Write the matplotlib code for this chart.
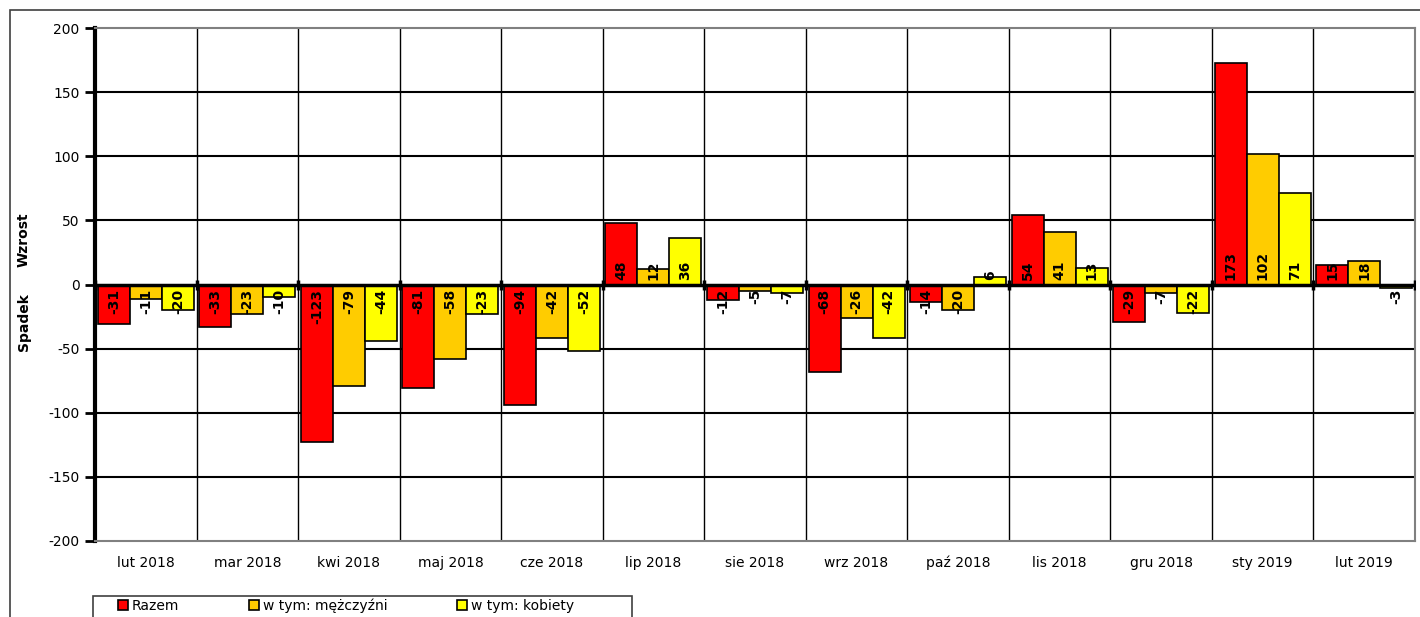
import numpy as np
import matplotlib
matplotlib.use("Agg")
import matplotlib.pyplot as plt
from matplotlib.patches import Rectangle

months = ["lut 2018", "mar 2018", "kwi 2018", "maj 2018", "cze 2018", "lip 2018", "sie 2018",
          "wrz 2018", "paź 2018", "lis 2018", "gru 2018", "sty 2019", "lut 2019"]
razem = [-31, -33, -123, -81, -94, 48, -12, -68, -14, 54, -29, 173, 15]
mezczyzni = [-11, -23, -79, -58, -42, 12, -5, -26, -20, 41, -7, 102, 18]
kobiety = [-20, -10, -44, -23, -52, 36, -7, -42, 6, 13, -22, 71, -3]

series = [("Razem", razem, "#ff0000"),
          ("w tym: mężczyźni", mezczyzni, "#ffcc00"),
          ("w tym: kobiety", kobiety, "#ffff00")]

plt.rcParams['font.family'] = ['DejaVu Sans']
plt.rcParams['axes.unicode_minus'] = False

fig = plt.figure(figsize=(14.2, 6.17), dpi=100)
ax = fig.add_axes([95/1420, 1 - 541/617, 1320/1420, 513/617])

x = np.arange(len(months))
w = 0.315
for k, (name, vals, col) in enumerate(series):
    xs = x + (k - 1) * w
    ax.bar(xs, vals, width=w, color=col, edgecolor="black", linewidth=1.2, label=name, zorder=3)
    for xi, v in zip(xs, vals):
        ax.annotate(str(v), (xi, 0), xytext=(0, 3 if v >= 0 else -3), textcoords="offset points",
                    rotation=90, ha="center", va="bottom" if v >= 0 else "top",
                    fontsize=10, fontweight="bold", zorder=5)

ax.set_xlim(-0.5, len(months) - 0.5)
ax.set_ylim(-200, 200)
ax.set_yticks(np.arange(-200, 201, 50))
ax.set_xticks(x)
ax.set_xticklabels(months, fontsize=10)
ax.tick_params(axis="x", length=0, pad=19)
for lbl in ax.get_xticklabels():
    lbl.set_verticalalignment("baseline")
ax.tick_params(axis="y", direction="out", length=7, width=2, labelsize=10, pad=4)

for yv in np.arange(-150, 151, 50):
    if yv != 0:
        ax.axhline(yv, color="black", lw=1.5, zorder=1)
for k in range(1, len(months)):
    ax.axvline(k - 0.5, color="black", lw=1, zorder=1)
ax.axhline(0, color="black", lw=2.5, zorder=4)
ax.plot(np.arange(len(months) + 1) - 0.5, np.zeros(len(months) + 1), linestyle="none",
        marker="|", markersize=7, markeredgewidth=2.5, color="black", zorder=4)

for s in ["top", "right", "bottom"]:
    ax.spines[s].set_color("#808080")
    ax.spines[s].set_linewidth(1.5)
ax.spines["left"].set_linewidth(3)

fig.text(24/1420, 1 - 240/617, "Wzrost", rotation=90, ha="center", va="center",
         fontsize=10, fontweight="bold")
fig.text(24/1420, 1 - 322/617, "Spadek", rotation=90, ha="center", va="center",
         fontsize=10, fontweight="bold")

# outer chart frame
fig.patches.append(Rectangle((10/1420, -0.1), 1.2, 1 - 10/617 + 0.1, transform=fig.transFigure,
                             fill=False, edgecolor="#404040", lw=1.2))
# legend frame
fig.patches.append(Rectangle((93/1420, -0.1), 539/1420, 1 - 596/617 + 0.1, transform=fig.transFigure,
                             fill=False, edgecolor="#404040", lw=1.2))

leg = fig.legend(loc="center left", bbox_to_anchor=(118/1420, 1 - 606/617), ncol=3,
                 fontsize=10, frameon=False, handlelength=0.75, handleheight=0.75,
                 handletextpad=0.25, columnspacing=5.0, borderpad=0, borderaxespad=0)

fig.savefig("out.png", dpi=100)
